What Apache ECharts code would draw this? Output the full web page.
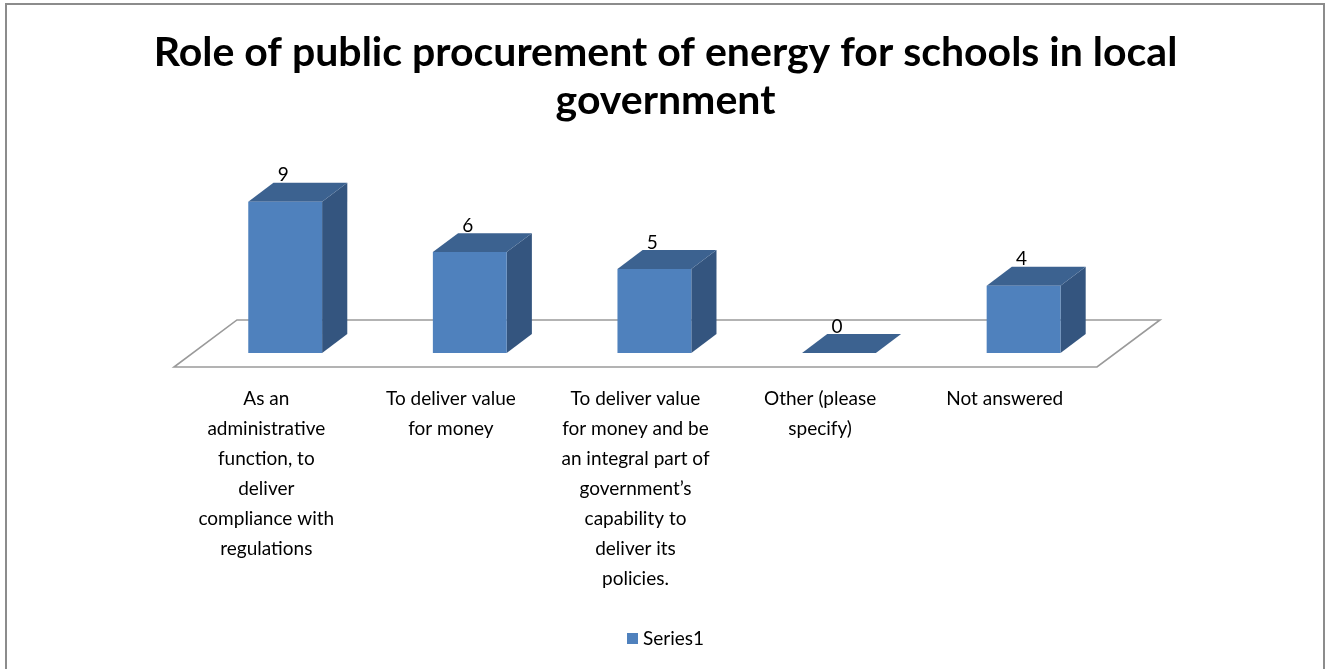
<!DOCTYPE html>
<html>
<head>
<meta charset="utf-8">
<script src="https://cdn.jsdelivr.net/npm/echarts@6/dist/echarts.min.js"></script>
<style>
  html, body { margin: 0; padding: 0; background: #fff; }
  #chart { width: 1331px; height: 669px; }
</style>
</head>
<body>
<div id="chart"></div>
<script>
// Survey answers: role of public procurement of energy for schools
const titleText = 'Role of public procurement of energy for schools in local\ngovernment';
const categories = [
  'As an\nadministrative\nfunction, to\ndeliver\ncompliance with\nregulations',
  'To deliver value\nfor money',
  'To deliver value\nfor money and be\nan integral part of\ngovernment\u2019s\ncapability to\ndeliver its\npolicies.',
  'Other (please\nspecify)',
  'Not answered'
];
const seriesName = 'Series1';
const values = [9, 6, 5, 0, 4];

const FONT = 'Lato, "Open Sans", sans-serif';
const FRONT = '#4f81bd';
const SIDE = '#34557f';
const TOP = '#3c6290';

// Oblique depth of the floor, relative to the category width
const DEPTH_X = 0.341;
const DEPTH_Y = 0.255;

function renderFloor(params, api) {
  const c0 = api.coord([0, 0]);
  const cw = api.size([1, 0])[0];
  const x0 = c0[0] - cw / 2;
  const x1 = x0 + cw * categories.length;
  const y = c0[1];
  const dx = cw * DEPTH_X, dy = cw * DEPTH_Y;
  return {
    type: 'polygon',
    shape: { points: [[x0, y], [x1, y], [x1 + dx, y - dy], [x0 + dx, y - dy]] },
    style: { fill: '#ffffff', stroke: '#9a9a9a', lineWidth: 1.6 },
    silent: true
  };
}

function renderBar(params, api) {
  const i = api.value(0);
  const v = api.value(1);
  const base = api.coord([i, 0]);
  const top = api.coord([i, v]);
  const cw = api.size([1, 0])[0];
  const bw = cw * 0.4;
  const dx = cw * DEPTH_X, dy = cw * DEPTH_Y;
  const h = base[1] - top[1];
  // front face sits 30% into the floor depth, bar is 40% deep
  const fx = base[0] - bw / 2 + dx * 0.3;
  const fy = base[1] - dy * 0.3;
  const bdx = dx * 0.4, bdy = dy * 0.4;
  const children = [
    {
      type: 'polygon',
      shape: { points: [[fx + bw, fy - h], [fx + bw + bdx, fy - h - bdy], [fx + bw + bdx, fy - bdy], [fx + bw, fy]] },
      style: { fill: SIDE }
    },
    {
      type: 'polygon',
      shape: { points: [[fx, fy - h], [fx + bdx, fy - h - bdy], [fx + bw + bdx, fy - h - bdy], [fx + bw, fy - h]] },
      style: { fill: TOP }
    },
    {
      type: 'rect',
      shape: { x: fx, y: fy - h, width: bw, height: h },
      style: { fill: FRONT }
    },
    {
      type: 'text',
      x: fx + bw / 2 - 2,
      y: fy - h - bdy + 2,
      style: {
        text: String(v),
        fill: '#000',
        font: '19px ' + FONT,
        align: 'center',
        verticalAlign: 'bottom'
      }
    }
  ];
  return { type: 'group', children: children };
}

const chart = echarts.init(document.getElementById('chart'), null, { renderer: 'canvas' });
chart.setOption({
  backgroundColor: '#ffffff',
  animation: false,
  title: {
    text: titleText,
    left: 'center',
    top: 24,
    textStyle: {
      fontFamily: FONT,
      fontSize: 41,
      fontWeight: 'bold',
      color: '#000',
      lineHeight: 48
    }
  },
  graphic: [{
    type: 'rect',
    shape: { x: 6, y: 4, width: 1318, height: 700 },
    style: { fill: 'none', stroke: '#8c8c8c', lineWidth: 2 },
    silent: true,
    z: 100
  }],
  legend: {
    data: [{ name: seriesName, icon: 'rect' }],
    left: 'center',
    top: 624,
    itemWidth: 11,
    itemHeight: 11,
    itemGap: 4,
    textStyle: { fontFamily: FONT, fontSize: 19, color: '#000' }
  },
  grid: { left: 174, right: 234, top: 199, bottom: 302 },
  xAxis: {
    type: 'category',
    data: categories,
    axisLine: { show: false },
    axisTick: { show: false },
    axisLabel: {
      interval: 0,
      margin: 17,
      fontFamily: FONT,
      fontSize: 19,
      lineHeight: 30,
      color: '#000',
      align: 'center'
    }
  },
  yAxis: {
    type: 'value',
    min: 0,
    max: 10,
    show: false
  },
  series: [
    {
      name: 'floor',
      type: 'custom',
      renderItem: renderFloor,
      data: [[0, 0]],
      silent: true,
      z: 1
    },
    {
      name: seriesName,
      type: 'custom',
      renderItem: renderBar,
      itemStyle: { color: FRONT },
      encode: { x: 0, y: 1 },
      data: values.map(function (v, i) { return [i, v]; }),
      z: 2
    }
  ]
});
</script>
</body>
</html>
